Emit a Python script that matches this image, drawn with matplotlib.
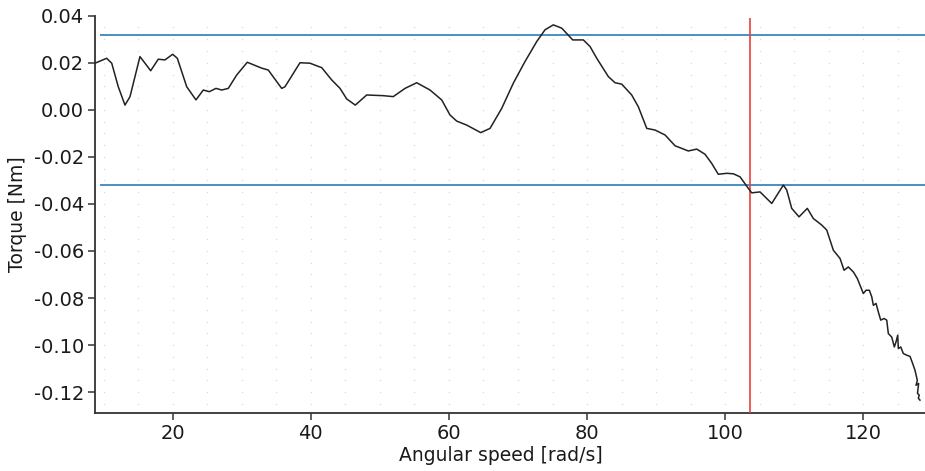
import numpy as np
import matplotlib
matplotlib.use("Agg")
import matplotlib.pyplot as plt

# ---- data ----
speed = [8.75, 10.44, 11.17, 12.12, 13.09, 13.82, 15.26, 15.99, 16.81, 17.91,
         18.88, 20.00, 20.67, 22.03, 23.37, 24.43, 25.30, 26.27, 27.10, 28.05,
         29.27, 30.80, 32.89, 33.84, 35.78, 36.26, 38.43, 39.88, 41.58, 43.02,
         44.23, 45.20, 46.44, 48.09, 50.50, 51.94, 53.64, 55.33, 57.26, 58.95,
         60.15, 61.12, 62.57, 64.60, 65.95, 67.64, 69.32, 71.01, 72.71, 73.91,
         75.11, 76.33, 77.92, 79.46, 80.43, 81.40, 83.08, 84.05, 85.02, 86.46,
         87.42, 88.64, 89.84, 91.29, 92.74, 94.66, 95.88, 97.08, 98.05, 99.00,
         100.22, 101.18, 102.15, 103.35, 103.84, 105.04, 106.74, 108.42, 108.91, 109.63,
         110.69, 111.89, 112.76, 113.98, 114.70, 115.66,
         116.63, 117.21, 117.83, 118.55, 119.13, 119.62, 120.00, 120.39, 120.87, 121.22,
         121.45, 121.84, 122.17, 122.52, 123.00, 123.39, 123.62, 124.11, 124.49, 124.73,
         124.98, 125.07, 125.42, 125.79, 126.28, 126.76, 127.15, 127.48, 127.82, 127.63,
         128.01, 127.84, 128.10, 127.96, 128.20]
torque = [0.0198, 0.0219, 0.0198, 0.0098, 0.0020, 0.0056, 0.0226, 0.0198, 0.0166, 0.0215,
          0.0212, 0.0236, 0.0219, 0.0098, 0.0042, 0.0084, 0.0077, 0.0091, 0.0084, 0.0091,
          0.0148, 0.0202, 0.0177, 0.0169, 0.0091, 0.0098, 0.0200, 0.0198, 0.0179, 0.0127,
          0.0091, 0.0046, 0.0020, 0.0063, 0.0060, 0.0056, 0.0091, 0.0115, 0.0084, 0.0042,
          -0.0022, -0.0048, -0.0065, -0.0097, -0.0079, 0.0006, 0.0113, 0.0205, 0.0290, 0.0340,
          0.0361, 0.0347, 0.0297, 0.0297, 0.0269, 0.0219, 0.0141, 0.0115, 0.0109, 0.0063,
          0.0013, -0.0079, -0.0086, -0.0107, -0.0153, -0.0175, -0.0167, -0.0189, -0.0228, -0.0274,
          -0.0270, -0.0272, -0.0285, -0.0334, -0.0353, -0.0349, -0.0398, -0.0320, -0.0341, -0.0419,
          -0.0455, -0.0419, -0.0462, -0.0490, -0.0511, -0.0597,
          -0.0632, -0.0682, -0.0668, -0.0689, -0.0717, -0.0753, -0.0781, -0.0767, -0.0767, -0.0795,
          -0.0831, -0.0823, -0.0859, -0.0894, -0.0887, -0.0894, -0.0951, -0.0966, -0.1008, -0.0987,
          -0.0958, -0.1015, -0.1008, -0.1036, -0.1043, -0.1048, -0.1079, -0.1107, -0.1150, -0.1171,
          -0.1163, -0.1205, -0.1213, -0.1226, -0.1234]

limit_levels = [0.032, -0.032]
marker_speed = 103.6
xticks = [20, 40, 60, 80, 100, 120]
yticks = [0.04, 0.02, 0.00, -0.02, -0.04, -0.06, -0.08, -0.10, -0.12]

plt.rcParams['font.family'] = ['DejaVu Sans']

fig = plt.figure(figsize=(9.25, 4.71), dpi=100)
ax = fig.add_axes([0.1027, 0.1225, 0.8973, 0.8442])
xlim = (8.75, 128.93)
ylim = (-0.129, 0.04)
ax.set_xlim(*xlim)
ax.set_ylim(*ylim)

# faint dot grid
gx, gy = np.meshgrid(np.arange(10, 129, 5), np.arange(-0.125, 0.0351, 0.005))
ax.scatter(gx.ravel(), gy.ravel(), s=1.2, color='#dcdcdc', linewidths=0, zorder=0)

for lv in limit_levels:
    ax.hlines(lv, 9.5, xlim[1], color='#2b7bb9', lw=1.2, zorder=2)
ax.vlines(marker_speed, ylim[0], 0.039, color='#e8413c', lw=1.2, zorder=3)

ax.plot(speed, torque, color='#222222', lw=1.1, zorder=4)

for s in ['top', 'right']:
    ax.spines[s].set_visible(False)
for s in ['left', 'bottom']:
    ax.spines[s].set_color('#333333')
    ax.spines[s].set_linewidth(1.3)

ax.set_xticks(xticks)
ax.set_yticks(yticks)
ax.set_yticklabels([f"{v:.2f}" for v in yticks])
ax.tick_params(axis='both', direction='out', length=5, width=1.1, color='#333333',
               labelsize=14, labelcolor='#1a1a1a', pad=3)

ax.set_xlabel("Angular speed [rad/s]", fontsize=13.5, color='#1a1a1a')
ax.set_ylabel("Torque [Nm]", fontsize=13.5, color='#1a1a1a')
ax.xaxis.set_label_coords(0.489, -0.082)
ax.xaxis.label.set_va('top')
ax.yaxis.set_label_coords(-0.082, 0.5)

fig.savefig("out.png", dpi=100)
